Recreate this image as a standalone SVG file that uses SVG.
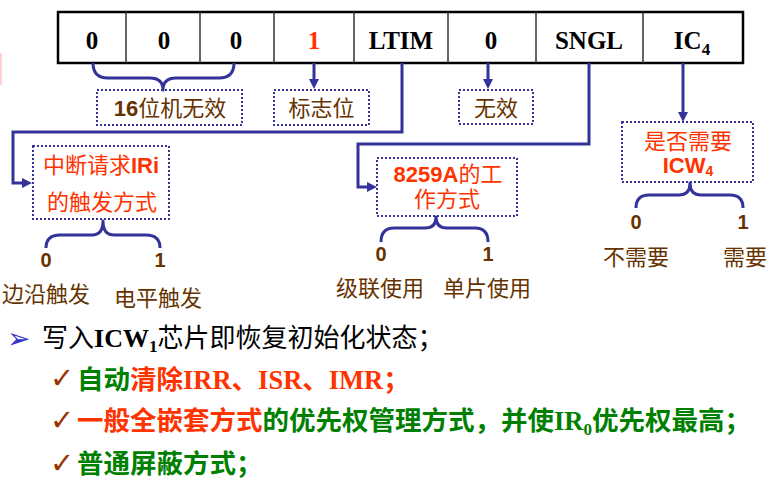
<svg xmlns="http://www.w3.org/2000/svg" width="767" height="484" viewBox="0 0 767 484">
<style>
.reg{font-family:"Liberation Serif","Noto Sans CJK SC",serif;font-weight:bold;font-size:25px;fill:#000;text-anchor:middle}
.dbox{fill:none;stroke:#333399;stroke-width:2;stroke-dasharray:2 2}
.conn{fill:none;stroke:#333399;stroke-width:3}
.brace{fill:none;stroke:#333399;stroke-width:3;stroke-linejoin:round}
.brn{font-family:"Noto Sans CJK SC",sans-serif;font-size:22px;fill:#663300;text-anchor:middle}
.brnb{font-family:"Liberation Sans","Noto Sans CJK SC",sans-serif;font-size:20px;font-weight:bold;fill:#663300;text-anchor:middle}
.red{font-family:"Liberation Sans","Noto Sans CJK SC",sans-serif;font-size:22px;fill:#ff3300;text-anchor:middle}
.lat{font-family:"Liberation Sans",sans-serif;font-weight:bold}
.l1{font-family:"Noto Sans CJK SC",sans-serif;font-size:26px;fill:#000}
.lb{font-family:"Noto Sans CJK SC",sans-serif;font-size:26.5px;font-weight:bold}
.tm{font-family:"Liberation Serif",serif;font-weight:bold}
.g{fill:#008000}
.r{fill:#ff3300}
.chk{font-family:"DejaVu Sans",sans-serif;font-size:29px;fill:#993300}
</style>
<defs>
<marker id="ah" viewBox="0 0 10 10" markerWidth="10" markerHeight="10" refX="4" refY="5" orient="auto" markerUnits="userSpaceOnUse">
<path d="M0,0 L10,5 L0,10 z" fill="#333399"/>
</marker>
<linearGradient id="pk" x1="0" y1="0" x2="1" y2="0">
<stop offset="0" stop-color="#ffc0c0"/><stop offset="1" stop-color="#ffffff"/>
</linearGradient>
</defs>
<rect x="0" y="53" width="3" height="32" fill="url(#pk)"/>

<g id="register">
<rect x="58" y="12" width="685" height="51" fill="#fff" stroke="#000" stroke-width="2.5"/>
<g stroke="#333" stroke-width="1.5">
<line x1="126" y1="12" x2="126" y2="63"/>
<line x1="200" y1="12" x2="200" y2="63"/>
<line x1="274" y1="12" x2="274" y2="63"/>
<line x1="354" y1="12" x2="354" y2="63"/>
<line x1="448" y1="12" x2="448" y2="63"/>
<line x1="536" y1="12" x2="536" y2="63"/>
<line x1="643" y1="12" x2="643" y2="63"/>
</g>
<text class="reg" x="92" y="49">0</text>
<text class="reg" x="164" y="49">0</text>
<text class="reg" x="236" y="49">0</text>
<text class="reg" x="314" y="49" style="fill:#ff3300">1</text>
<text class="reg" x="401" y="49">LTIM</text>
<text class="reg" x="491" y="49">0</text>
<text class="reg" x="589" y="49">SNGL</text>
<text class="reg" x="692" y="49">IC<tspan font-size="17" dy="6">4</tspan></text>
</g>

<g id="connectors">
<path class="brace" d="M93,63 Q93,78 108,78 L150,78 Q163,78 163,90 Q163,78 176,78 L219,78 Q234,78 234,63"/>
<line class="conn" x1="314" y1="63" x2="314" y2="83" marker-end="url(#ah)"/>
<line class="conn" x1="488" y1="63" x2="488" y2="83" marker-end="url(#ah)"/>
<line class="conn" x1="683" y1="63" x2="683" y2="116" marker-end="url(#ah)"/>
<path class="conn" d="M402,63 V132 H13 V183 H26" marker-end="url(#ah)"/>
<path class="conn" d="M589,63 V144 H358 V187 H371" marker-end="url(#ah)"/>
<path class="brace" d="M46,248 Q46,235 60,235 L92,235 Q103,235 103,221 Q103,235 114,235 L146,235 Q160,235 160,248"/>
<path class="brace" d="M381,242 Q381,228 394,228 L425,228 Q436,228 436,217 Q436,228 447,228 L475,228 Q488,228 488,242"/>
<path class="brace" d="M636,208 Q636,195 649,195 L679,195 Q690,195 690,183 Q690,195 701,195 L730,195 Q743,195 743,208"/>
</g>

<g id="n16">
<rect class="dbox" x="97" y="90" width="145" height="35"/>
<text class="brn" x="170" y="116"><tspan class="lat">16</tspan>位机无效</text>
</g>
<g id="flag">
<rect class="dbox" x="274" y="90" width="95" height="35"/>
<text class="brn" x="321.5" y="116">标志位</text>
</g>
<g id="invalid">
<rect class="dbox" x="459" y="90" width="74" height="34"/>
<text class="brn" x="496" y="116">无效</text>
</g>
<g id="trigger">
<rect class="dbox" x="33" y="146" width="136" height="73"/>
<text class="red" x="101" y="173">中断请求<tspan class="lat">IRi</tspan></text>
<text class="red" x="102" y="210">的触发方式</text>
<text class="brnb" x="46" y="267">0</text>
<text class="brnb" x="160" y="267">1</text>
<text class="brn" x="46" y="302">边沿触发</text>
<text class="brn" x="158" y="306">电平触发</text>
</g>
<g id="mode">
<rect class="dbox" x="377" y="158" width="140" height="58"/>
<text class="red" x="448" y="182"><tspan class="lat">8259A</tspan>的工</text>
<text class="red" x="447" y="207">作方式</text>
<text class="brnb" x="381" y="261">0</text>
<text class="brnb" x="488" y="261">1</text>
<text class="brn" x="380" y="296">级联使用</text>
<text class="brn" x="487" y="296">单片使用</text>
</g>
<g id="icw4">
<rect class="dbox" x="622" y="122" width="131" height="60"/>
<text class="red" x="688" y="149" font-size="21">是否需要</text>
<text class="red" x="688" y="173" font-size="21"><tspan class="lat">ICW</tspan><tspan class="lat" font-size="14" dy="3">4</tspan></text>
<text class="brnb" x="636" y="229">0</text>
<text class="brnb" x="743" y="229">1</text>
<text class="brn" x="636" y="265">不需要</text>
<text class="brn" x="745" y="265">需要</text>
</g>

<g id="notes">
<text x="7" y="348" font-family="DejaVu Sans,sans-serif" font-size="28" fill="#3333cc">➢</text>
<text class="l1" x="42" y="347">写入<tspan class="tm">ICW</tspan><tspan class="tm" font-size="17" dy="5">1</tspan><tspan dy="-5">芯片即恢复初始化状态；</tspan></text>
<text class="chk" x="50" y="388">✓</text>
<text class="lb" x="77" y="389"><tspan class="g">自动</tspan><tspan class="r">清除</tspan><tspan class="r tm">IRR</tspan><tspan class="r">、</tspan><tspan class="r tm">ISR</tspan><tspan class="r">、</tspan><tspan class="r tm">IMR</tspan><tspan class="r">；</tspan></text>
<text class="chk" x="50" y="430">✓</text>
<text class="lb" x="77" y="430"><tspan class="r">一般全嵌套方式</tspan><tspan class="g">的优先权管理方式，并使</tspan><tspan class="g tm">IR</tspan><tspan class="g tm" font-size="17" dy="5">0</tspan><tspan class="g" dy="-5">优先权最高；</tspan></text>
<text class="chk" x="50" y="473">✓</text>
<text class="lb g" x="77" y="473">普通屏蔽方式；</text>
</g>
</svg>
